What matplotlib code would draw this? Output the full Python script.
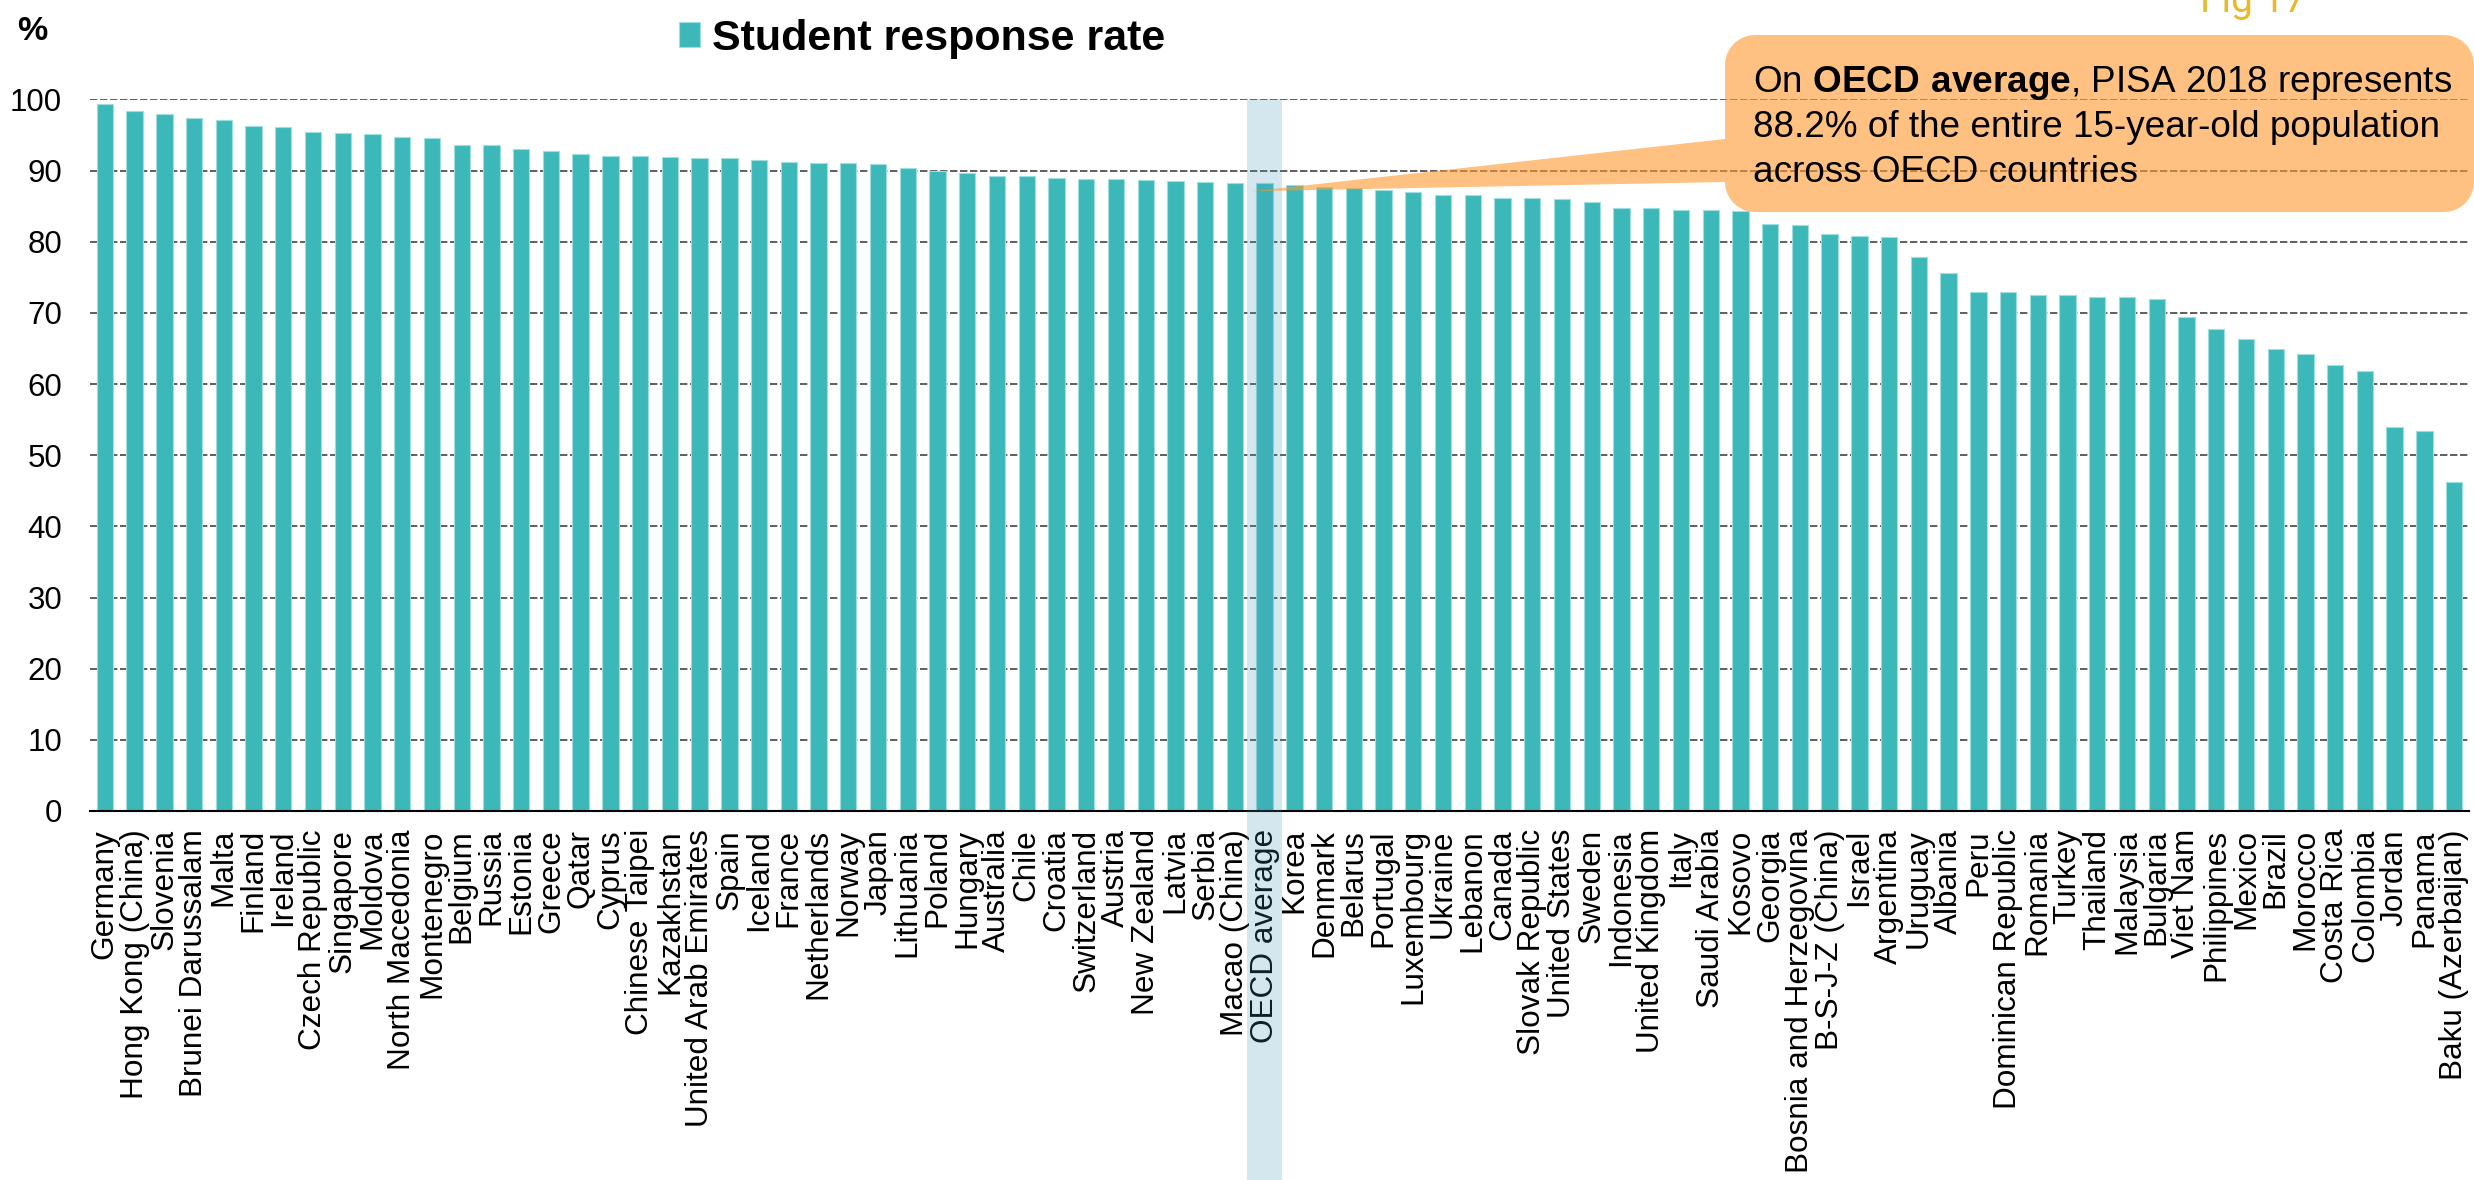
import matplotlib
matplotlib.use("Agg")
import matplotlib.pyplot as plt
import numpy as np
from matplotlib.patches import Rectangle, Polygon

plt.rcParams['font.family'] = ['Liberation Sans', 'DejaVu Sans']
plt.rcParams['mathtext.fontset'] = 'custom'
plt.rcParams['mathtext.rm'] = 'Liberation Sans'
plt.rcParams['mathtext.bf'] = 'Liberation Sans:bold'
plt.rcParams['lines.scale_dashes'] = False

countries = [
    'Germany', 'Hong Kong (China)', 'Slovenia', 'Brunei Darussalam', 'Malta',
    'Finland', 'Ireland', 'Czech Republic', 'Singapore', 'Moldova',
    'North Macedonia', 'Montenegro', 'Belgium', 'Russia', 'Estonia',
    'Greece', 'Qatar', 'Cyprus', 'Chinese Taipei', 'Kazakhstan',
    'United Arab Emirates', 'Spain', 'Iceland', 'France', 'Netherlands',
    'Norway', 'Japan', 'Lithuania', 'Poland', 'Hungary',
    'Australia', 'Chile', 'Croatia', 'Switzerland', 'Austria',
    'New Zealand', 'Latvia', 'Serbia', 'Macao (China)', 'OECD average',
    'Korea', 'Denmark', 'Belarus', 'Portugal', 'Luxembourg',
    'Ukraine', 'Lebanon', 'Canada', 'Slovak Republic', 'United States',
    'Sweden', 'Indonesia', 'United Kingdom', 'Italy', 'Saudi Arabia',
    'Kosovo', 'Georgia', 'Bosnia and Herzegovina', 'B-S-J-Z (China)', 'Israel',
    'Argentina', 'Uruguay', 'Albania', 'Peru', 'Dominican Republic',
    'Romania', 'Turkey', 'Thailand', 'Malaysia', 'Bulgaria',
    'Viet Nam', 'Philippines', 'Mexico', 'Brazil', 'Morocco',
    'Costa Rica', 'Colombia', 'Jordan', 'Panama', 'Baku (Azerbaijan)',
]
response_rate = [
    99.3, 98.4, 97.9, 97.4, 97.1,
    96.2, 96.1, 95.4, 95.3, 95.1,
    94.7, 94.6, 93.6, 93.6, 93.0,
    92.7, 92.3, 92.1, 92.0, 91.9,
    91.8, 91.8, 91.5, 91.2, 91.1,
    91.0, 90.9, 90.3, 90.0, 89.6,
    89.3, 89.2, 89.0, 88.8, 88.8,
    88.7, 88.5, 88.4, 88.2, 88.2,
    88.0, 87.7, 87.5, 87.2, 87.0,
    86.6, 86.6, 86.2, 86.1, 86.0,
    85.6, 84.8, 84.7, 84.5, 84.4,
    84.3, 82.5, 82.3, 81.1, 80.8,
    80.6, 77.9, 75.6, 73.0, 72.9,
    72.5, 72.5, 72.3, 72.2, 71.9,
    69.4, 67.8, 66.3, 64.9, 64.2,
    62.7, 61.8, 53.9, 53.4, 46.2,
]
yticks = [0, 10, 20, 30, 40, 50, 60, 70, 80, 90, 100]
highlight = 'OECD average'

W, H = 2474, 1180
fig = plt.figure(figsize=(W / 100, H / 100), dpi=100)
ax = fig.add_axes([90 / W, 1 - 811 / H, (2469 - 90) / W, (811 - 99.4) / H])

x = np.arange(len(countries))
bars = ax.bar(x, response_rate, width=0.55, color='#3db8b9',
              edgecolor='#9fdede', linewidth=0.8, zorder=3)

ax.set_xlim(-0.5, len(countries) - 0.5)
ax.set_ylim(0, 100)
ax.set_yticks(yticks)
ax.set_xticks(x)
ax.set_xticklabels(countries, rotation=90)
ax.tick_params(axis='x', length=0, pad=13, labelsize=22.7)
ax.tick_params(axis='y', length=0, pad=20, labelsize=22.5)

ax.yaxis.grid(True, color='#5e5e5e', linewidth=1.4, linestyle=(0, (5.3, 1.9)), zorder=1)
ax.set_axisbelow(True)
for side in ['top', 'right', 'left']:
    ax.spines[side].set_visible(False)
ax.spines['bottom'].set_linewidth(1.5)
ax.spines['bottom'].set_color('black')
ax.spines['bottom'].set_zorder(4)


def px(xp, yp):
    # pixel position from the top-left corner -> figure fraction
    return xp / W, 1 - yp / H


fig.text(*px(17, 40), '%', fontsize=24.5, fontweight='bold', va='baseline')

fig.legend([bars], ['Student response rate'], loc='center left',
           bbox_to_anchor=px(679, 39), frameon=False, borderpad=0,
           borderaxespad=0, handlelength=0.49, handleheight=0.51,
           handletextpad=0.28, prop={'weight': 'bold', 'size': 31})

fig.text(*px(2200, 12), 'Fig 17', family='Roboto', fontsize=28,
         color='#e8b928', va='baseline')

# shaded column behind the OECD average bar and its label
i_oecd = countries.index(highlight)
x0 = ax.transData.transform((i_oecd - 0.6, 0))[0]
x1 = ax.transData.transform((i_oecd + 0.6, 0))[0]
band = Rectangle((x0 / W, 0), (x1 - x0) / W, 1 - 99.4 / H,
                 transform=fig.transFigure, facecolor=(0.24, 0.59, 0.71),
                 alpha=0.22, linewidth=0, zorder=5)
fig.patches.append(band)

# callout box with a pointer to the OECD average bar
tip_x, tip_y = ax.transData.transform((i_oecd - 0.4, response_rate[i_oecd] - 1.1))
tip = (tip_x, H - tip_y)
L, R, T, B, r = 1725, 2474, 35, 212, 30
y_up, y_lo = 139, 182


def arc(cx, cy, a0, a1):
    t = np.radians(np.linspace(a0, a1, 12))
    return [(cx + r * np.cos(t_), cy + r * np.sin(t_)) for t_ in t]


pts = [tip, (L, y_lo)]
pts += arc(L + r, B - r, 180, 90)
pts += arc(R - r, B - r, 90, 0)
pts += arc(R - r, T + r, 0, -90)
pts += arc(L + r, T + r, -90, -180)
pts += [(L, y_up)]
callout = Polygon([px(a, b) for a, b in pts], closed=True,
                  transform=fig.transFigure, facecolor=(1.0, 0.6, 0.18),
                  alpha=0.6, linewidth=0, zorder=6)
fig.patches.append(callout)

note_size = 26.6
fig.text(*px(1753, 92), r'On $\bf{OECD\ average}$, PISA 2018 represents',
         fontsize=note_size, va='baseline', zorder=7)
fig.text(*px(1753, 137), '88.2% of the entire 15-year-old population',
         fontsize=note_size, va='baseline', zorder=7)
fig.text(*px(1753, 182), 'across OECD countries',
         fontsize=note_size, va='baseline', zorder=7)

fig.savefig('out.png', dpi=100)
